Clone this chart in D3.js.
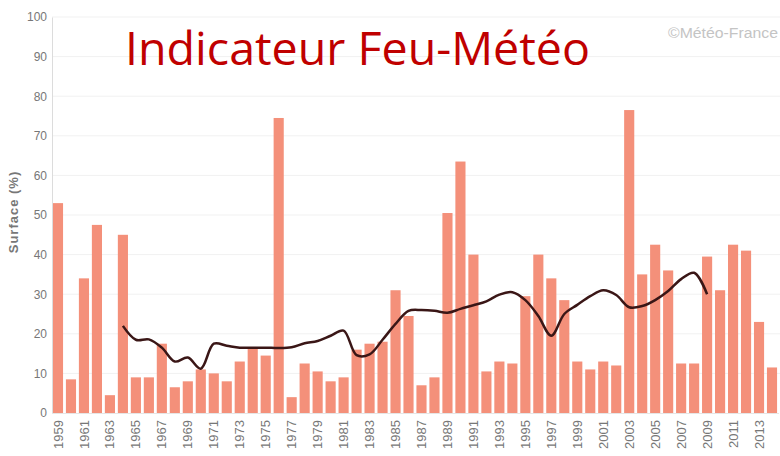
<!DOCTYPE html>
<html>
<head>
<meta charset="utf-8">
<script src="https://cdn.jsdelivr.net/npm/d3@7"></script>
<style>
  html, body { margin: 0; padding: 0; background: #fff; }
  svg { display: block; }
</style>
</head>
<body>
<svg id="chart" width="780" height="456"></svg>
<script>
const years = d3.range(1959, 2015);
const surface = [53, 8.5, 34, 47.5, 4.5, 45, 9, 9, 17.5, 6.5,
                 8, 11, 10, 8, 13, 16.5, 14.5, 74.5, 4, 12.5,
                 10.5, 8, 9, 16, 17.5, 18, 31, 24.5, 7, 9,
                 50.5, 63.5, 40, 10.5, 13, 12.5, 29.5, 40, 34, 28.5,
                 13, 11, 13, 12, 76.5, 35, 42.5, 36, 12.5, 12.5,
                 39.5, 31, 42.5, 41, 23, 11.5];
const trendYears = d3.range(1964, 2010);
const trend = [22, 18.5, 18.6, 16.5, 13, 14, 11.2, 17.5, 17, 16.5,
               16.5, 16.5, 16.4, 16.6, 17.6, 18.2, 19.5, 20.8, 14.6, 14.8,
               18.5, 22.5, 25.8, 26, 25.8, 25.3, 26.3, 27.2, 28.2, 29.9,
               30.5, 28.5, 24.5, 19.5, 25, 27.3, 29.5, 31, 29.8, 26.7,
               27, 28.5, 30.8, 33.8, 35.4, 30];
const yTicks = [0, 10, 20, 30, 40, 50, 60, 70, 80, 90, 100];
const xTickYears = years.filter(y => (y - 1959) % 2 === 0);

const svg = d3.select("#chart");
const x = d3.scaleBand().domain(years).range([51.5, 778.5]).paddingInner(0.22).paddingOuter(0.11);
const y = d3.scaleLinear().domain([0, 100]).range([413, 17]);

// gridlines
svg.append("g").selectAll("line").data(yTicks.slice(1)).join("line")
  .attr("x1", 52).attr("x2", 780)
  .attr("y1", d => y(d)).attr("y2", d => y(d))
  .attr("stroke", "#f1f1f1").attr("stroke-width", 1);

// bars
svg.append("g").selectAll("rect").data(years).join("rect")
  .attr("x", d => x(d))
  .attr("width", x.bandwidth())
  .attr("y", (d, i) => y(surface[i]))
  .attr("height", (d, i) => y(0) - y(surface[i]))
  .attr("fill", "#f4907a");

// y axis
const yAxis = d3.axisLeft(y).tickValues(yTicks).tickSize(0).tickPadding(5);
const ya = svg.append("g").attr("transform", "translate(52,0)").call(yAxis);
ya.select(".domain").attr("stroke", "#dcdcdc");
ya.selectAll("text").attr("fill", "#777").style("font-family", "Liberation Sans, Arial, sans-serif").style("font-size", "12px");

// x axis
const xAxis = d3.axisBottom(x).tickValues(xTickYears).tickSize(0).tickPadding(0);
const xa = svg.append("g").attr("transform", "translate(0,413)").call(xAxis);
xa.select(".domain").attr("stroke", "#e6e6e6");
xa.selectAll("text")
  .attr("fill", "#777")
  .style("font-family", "Liberation Sans, Arial, sans-serif")
  .style("font-size", "13px")
  .attr("text-anchor", "end")
  .attr("dy", "0.35em")
  .attr("y", 0)
  .attr("transform", "translate(0,7) rotate(-90)");

// trend line
const line = d3.line()
  .x((d, i) => x(trendYears[i]) + x.bandwidth() / 2)
  .y(d => y(d))
  .curve(d3.curveCatmullRom.alpha(0.5));
svg.append("path").datum(trend)
  .attr("d", line)
  .attr("fill", "none")
  .attr("stroke", "#3a1616")
  .attr("stroke-width", 2.5)
  .attr("stroke-linejoin", "round");

// y axis title
svg.append("text")
  .attr("transform", "translate(18,212) rotate(-90)")
  .attr("text-anchor", "middle")
  .attr("fill", "#777")
  .style("font-family", "Liberation Sans, Arial, sans-serif")
  .style("font-size", "13px")
  .style("font-weight", "bold")
  .style("letter-spacing", "1px")
  .text("Surface (%)");

// title
svg.append("text")
  .attr("x", 125).attr("y", 65)
  .attr("fill", "#c00000")
  .attr("textLength", 465)
  .attr("lengthAdjust", "spacingAndGlyphs")
  .style("font-family", "Open Sans, sans-serif")
  .style("font-size", "45px")
  .text("Indicateur Feu-Météo");

// watermark
svg.append("text")
  .attr("x", 668).attr("y", 38)
  .attr("fill", "#c4c4c4")
  .attr("textLength", 110)
  .attr("lengthAdjust", "spacingAndGlyphs")
  .style("font-family", "Liberation Sans, Arial, sans-serif")
  .style("font-size", "14px")
  .text("©Météo-France");
</script>
</body>
</html>
